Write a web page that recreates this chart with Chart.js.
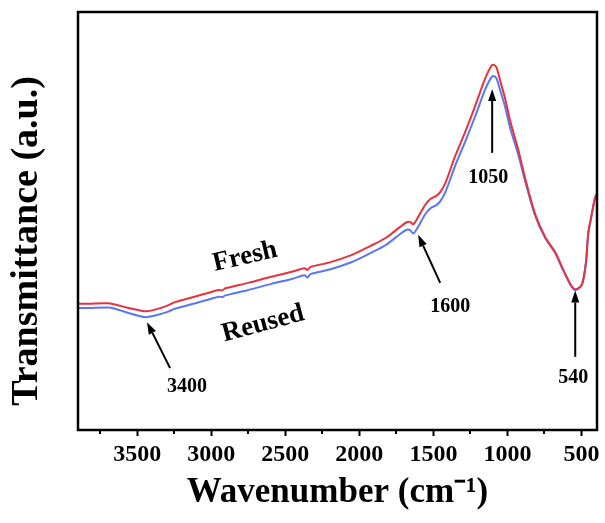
<!DOCTYPE html>
<html>
<head>
<meta charset="utf-8">
<script src="https://cdn.jsdelivr.net/npm/chart.js@4"></script>
<style>
html, body { margin: 0; padding: 0; background: #fff; }
</style>
</head>
<body>
<canvas id="ftirChart" width="605" height="523"></canvas>
<script>
// wavenumber (cm-1)
var wavenumbers = [3900, 3830, 3700, 3650, 3560, 3480, 3440, 3380, 3300, 3245, 3100, 2950, 2925, 2905, 2750, 2600, 2450, 2370, 2350, 2330, 2200, 2050, 1927, 1820, 1724, 1680, 1657, 1636, 1610, 1555, 1522, 1480, 1454, 1420, 1353, 1285, 1218, 1150, 1110, 1096, 1075, 1049, 1015, 981, 927, 880, 812, 745, 677, 630, 576, 550, 525, 495, 470, 454, 434, 407, 395];
var fresh = [30.2, 30.2, 30.3, 30.0, 29.2, 28.6, 28.4, 28.8, 29.7, 30.6, 32.0, 33.5, 33.4, 33.9, 35.2, 36.6, 37.9, 38.7, 38.3, 39.0, 40.1, 41.9, 44.0, 46.0, 48.6, 49.7, 49.8, 49.2, 50.5, 53.9, 55.2, 56.0, 56.9, 59.0, 65.5, 71.3, 77.5, 84.1, 87.0, 87.4, 86.8, 83.6, 79.2, 73.9, 67.1, 60.2, 51.6, 46.2, 42.5, 38.9, 35.0, 33.8, 33.8, 35.0, 40.0, 47.1, 51.0, 55.8, 56.5];
var reused = [29.2, 29.2, 29.3, 29.0, 28.0, 27.2, 27.0, 27.4, 28.2, 29.0, 30.4, 31.9, 31.8, 32.2, 33.5, 34.9, 36.2, 37.0, 36.5, 37.3, 38.4, 40.2, 42.3, 44.3, 46.9, 47.9, 47.8, 47.0, 48.2, 51.6, 53.0, 53.8, 54.7, 56.8, 63.2, 69.0, 75.0, 81.5, 84.3, 84.7, 84.2, 81.3, 77.2, 72.2, 65.9, 59.5, 51.2, 45.9, 42.3, 38.7, 34.8, 33.6, 33.7, 34.9, 39.9, 47.0, 50.9, 55.7, 56.4];

var majorTicks = [3500, 3000, 2500, 2000, 1500, 1000, 500];
var minorTicks = [3750, 3250, 2750, 2250, 1750, 1250, 750];

// peak arrows: head, tail and label in data units [wavenumber, value]
var peakLabels = ['3400', '1600', '1050', '540'];
var arrowHeads = [[3434, 25.8], [1603, 46.7], [1103, 81.6], [542, 33.4]];
var arrowTails = [[3278, 14.8], [1454, 35.2], [1103, 66.3], [542, 17.5]];
var labelSpots = [[3164, 10.3], [1386, 29.4], [1130, 60.3], [555, 12.4]];

var curveNames = ['Fresh', 'Reused'];
var curveNameSpots = [[2772, 41.4], [2650, 25.4]];
var curveNameAngles = [-13, -15];

var serif = "'Liberation Serif', 'Times New Roman', serif";

function toPoints(ys) {
    return wavenumbers.map(function(w, i) { return { x: w, y: ys[i] }; });
}

function drawArrow(ctx, x1, y1, x2, y2) {
    var a = Math.atan2(y2 - y1, x2 - x1);
    var hl = 12, hw = 4;
    var bx = x2 - hl * Math.cos(a), by = y2 - hl * Math.sin(a);
    ctx.beginPath();
    ctx.moveTo(x1, y1);
    ctx.lineTo(bx, by);
    ctx.stroke();
    ctx.beginPath();
    ctx.moveTo(x2, y2);
    ctx.lineTo(bx + hw * Math.sin(a), by - hw * Math.cos(a));
    ctx.lineTo(bx - hw * Math.sin(a), by + hw * Math.cos(a));
    ctx.closePath();
    ctx.fill();
}

var extras = {
    id: 'extras',
    afterDraw: function(chart) {
        var ctx = chart.ctx, xs = chart.scales.x, ys = chart.scales.y, ca = chart.chartArea;
        ctx.save();
        ctx.strokeStyle = '#000';
        ctx.fillStyle = '#000';

        // frame
        ctx.lineWidth = 2.5;
        ctx.strokeRect(ca.left, ca.top, ca.right - ca.left, ca.bottom - ca.top);

        // minor ticks
        ctx.lineWidth = 2;
        minorTicks.forEach(function(v) {
            var px = Math.round(xs.getPixelForValue(v));
            ctx.beginPath();
            ctx.moveTo(px, ca.bottom);
            ctx.lineTo(px, ca.bottom + 4);
            ctx.stroke();
        });

        // arrows + labels
        ctx.lineWidth = 2;
        ctx.font = 'bold 20px ' + serif;
        ctx.textAlign = 'center';
        ctx.textBaseline = 'middle';
        peakLabels.forEach(function(t, i) {
            drawArrow(ctx,
                xs.getPixelForValue(arrowTails[i][0]), ys.getPixelForValue(arrowTails[i][1]),
                xs.getPixelForValue(arrowHeads[i][0]), ys.getPixelForValue(arrowHeads[i][1]));
            ctx.fillText(t, xs.getPixelForValue(labelSpots[i][0]), ys.getPixelForValue(labelSpots[i][1]));
        });

        // curve names
        ctx.font = 'bold 27px ' + serif;
        curveNames.forEach(function(t, i) {
            ctx.save();
            ctx.translate(xs.getPixelForValue(curveNameSpots[i][0]), ys.getPixelForValue(curveNameSpots[i][1]));
            ctx.rotate(curveNameAngles[i] * Math.PI / 180);
            ctx.fillText(t, 0, 0);
            ctx.restore();
        });

        // y title (sits a bit below the axis middle in the original)
        ctx.font = 'bold 38px ' + serif;
        ctx.translate(27, (ca.top + ca.bottom) / 2 + 20);
        ctx.rotate(-Math.PI / 2);
        ctx.fillText('Transmittance (a.u.)', 0, 0);
        ctx.restore();
    }
};

var ctxFtir = document.getElementById('ftirChart').getContext('2d');
var ftirChart = new Chart(ctxFtir, {
    type: 'line',
    data: {
        datasets: [{
            label: 'Fresh',
            data: toPoints(fresh),
            borderColor: '#e8323c',
            borderWidth: 2,
            pointRadius: 0,
            tension: 0.3,
            order: 0
        }, {
            label: 'Reused',
            data: toPoints(reused),
            borderColor: '#5a77f2',
            borderWidth: 2,
            pointRadius: 0,
            tension: 0.3,
            order: 1
        }]
    },
    options: {
        responsive: false,
        animation: false,
        layout: { padding: { top: 12, right: 8, left: 0, bottom: 0 } },
        scales: {
            x: {
                type: 'linear',
                reverse: true,
                min: 395,
                max: 3900,
                afterBuildTicks: function(scale) {
                    scale.ticks = majorTicks.map(function(v) { return { value: v }; });
                },
                afterFit: function(scale) { scale.height = 93; },
                ticks: {
                    color: '#000',
                    font: { family: serif, size: 24, weight: 'bold' },
                    padding: 4,
                    maxRotation: 0,
                    autoSkip: false,
                    callback: function(value) { return String(value); }
                },
                grid: {
                    drawOnChartArea: false,
                    drawTicks: true,
                    tickLength: 6,
                    tickWidth: 2,
                    color: '#000'
                },
                border: { display: false },
                title: {
                    display: true,
                    text: 'Wavenumber (cm⁻¹)',
                    color: '#000',
                    font: { family: serif, size: 35, weight: 'bold' },
                    padding: { top: 0, bottom: 9 }
                }
            },
            y: {
                min: 0,
                max: 100,
                afterFit: function(scale) { scale.width = 78; },
                ticks: { display: false },
                grid: { display: false },
                border: { display: false }
            }
        },
        plugins: {
            legend: { display: false },
            tooltip: { enabled: false }
        }
    },
    plugins: [extras]
});
</script>
</body>
</html>
